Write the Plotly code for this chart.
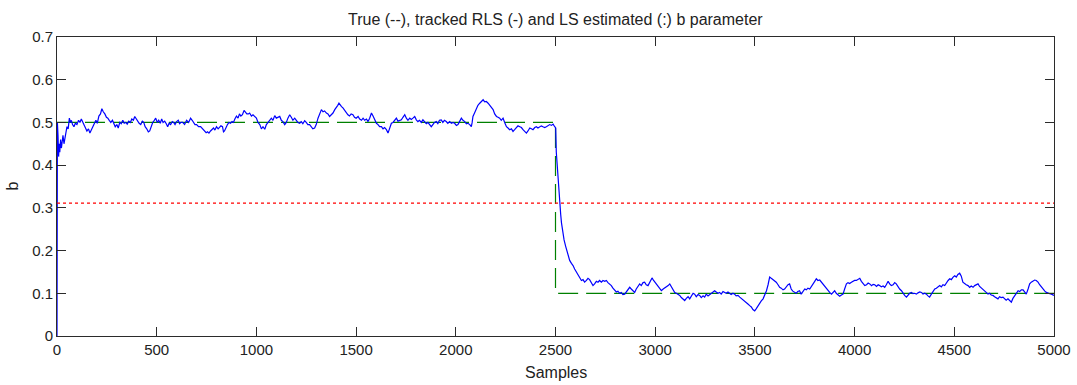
import plotly.graph_objects as go

# Tracked RLS estimate of b
rls_samples = [
    0, 2, 5, 8, 11, 14, 18, 22, 26, 30, 35, 40, 45, 50, 56, 62, 67, 72, 78, 85, 92, 100,
    108, 115, 122, 130, 140, 150, 158, 165, 172, 180, 188, 195, 202, 210, 218, 225, 232,
    240, 248, 255, 262, 270, 278, 285, 292, 300, 307, 315, 322, 330, 337, 345, 352, 360,
    368, 375, 383, 390, 398, 405, 412, 420, 428, 435, 442, 450, 458, 465, 472, 480, 488,
    495, 503, 510, 518, 525, 532, 540, 548, 555, 562, 570, 578, 585, 592, 600, 608, 615,
    622, 630, 640, 650, 660, 670, 678, 685, 692, 700, 710, 720, 730, 740, 748, 755, 762,
    770, 778, 785, 792, 800, 808, 815, 822, 830, 835, 840, 848, 855, 862, 870, 878, 885,
    892, 900, 908, 915, 922, 930, 938, 945, 952, 960, 966, 975, 983,
    1000, 1008, 1017, 1025, 1033, 1042, 1050, 1058, 1067, 1075, 1083, 1092, 1100, 1108,
    1117, 1125, 1133, 1142, 1150, 1158, 1167, 1175, 1183, 1192, 1200, 1208, 1217, 1225,
    1233, 1242, 1250, 1258, 1267, 1275, 1283, 1292, 1300, 1309, 1317, 1326, 1334, 1342,
    1351, 1359, 1367, 1376, 1384, 1393, 1402, 1408, 1414, 1420, 1427, 1434, 1442, 1450,
    1459, 1467, 1475, 1484, 1492, 1500, 1510, 1518, 1527, 1535, 1543, 1552, 1560, 1568,
    1577, 1585, 1593, 1602, 1610, 1618, 1627, 1635, 1643, 1652, 1660, 1668, 1677, 1685,
    1693, 1702, 1710, 1718, 1727, 1735, 1744, 1752, 1760, 1769, 1777, 1785, 1794, 1802,
    1810, 1818, 1827, 1835, 1843, 1852, 1860, 1868, 1877, 1885, 1893, 1902, 1910, 1918,
    1927, 1935, 1943, 1952, 1960, 1969, 1978, 1986, 1994,
    2003, 2011, 2020, 2028, 2036, 2045, 2053, 2061, 2070, 2078, 2082, 2086, 2094, 2103,
    2111, 2120, 2128, 2137, 2145, 2153, 2162, 2170, 2178, 2187, 2195, 2204, 2212, 2220,
    2228, 2237, 2245, 2254, 2262, 2270, 2279, 2287, 2295, 2304, 2312, 2321, 2329, 2337,
    2346, 2354, 2362, 2371, 2379, 2387, 2396, 2404, 2412, 2421, 2429, 2437, 2446, 2454,
    2462, 2471, 2480, 2488, 2496, 2501,
    2504, 2508, 2513, 2517, 2521, 2526, 2530, 2534, 2538, 2543, 2551, 2557, 2563, 2571,
    2580, 2588, 2596, 2605, 2613, 2621, 2630, 2638, 2646, 2655, 2663, 2671, 2680, 2688,
    2696, 2705, 2713, 2721, 2730, 2738, 2747, 2755, 2763, 2772, 2780, 2788, 2797, 2805,
    2813, 2822, 2830, 2838, 2847, 2855, 2864, 2872, 2880, 2889, 2897, 2905, 2914, 2922,
    2930, 2939, 2947, 2955, 2964, 2972, 2980, 2984, 2992,
    3000, 3006, 3015, 3023, 3031, 3040, 3048, 3056, 3065, 3073, 3081, 3090, 3098, 3106,
    3115, 3123, 3131, 3140, 3148, 3156, 3165, 3173, 3181, 3190, 3198, 3206, 3215, 3223,
    3231, 3240, 3248, 3256, 3265, 3273, 3281, 3290, 3298, 3306, 3315, 3323, 3331, 3340,
    3348, 3356, 3365, 3373, 3381, 3390, 3398, 3406, 3415, 3424, 3432, 3440, 3449, 3457,
    3465, 3474, 3482, 3490, 3499, 3507, 3516, 3524, 3532, 3541, 3549, 3558, 3566, 3574,
    3582, 3591, 3599, 3607, 3616, 3624, 3632, 3641, 3649, 3657, 3666, 3674, 3682, 3690,
    3699, 3707, 3715, 3724, 3732, 3740, 3750, 3758, 3766, 3775, 3783, 3791, 3800, 3808,
    3816, 3825, 3833, 3841, 3850, 3858, 3866, 3875, 3884, 3892, 3900, 3908, 3917, 3925,
    3934, 3942, 3950, 3959, 3967, 3975, 3984, 3992,
    4000, 4009, 4017, 4026, 4034, 4043, 4051, 4060, 4068, 4076, 4085, 4093, 4101, 4110,
    4118, 4126, 4134, 4143, 4151, 4159, 4168, 4176, 4184, 4193, 4201, 4209, 4218, 4226,
    4235, 4243, 4251, 4260, 4268, 4276, 4285, 4293, 4301, 4310, 4318, 4327, 4335, 4343,
    4352, 4360, 4368, 4376, 4385, 4393, 4402, 4410, 4418, 4427, 4435, 4443, 4452, 4460,
    4469, 4477, 4485, 4494, 4502, 4510, 4518, 4527, 4535, 4543, 4552, 4560, 4569, 4577,
    4585, 4594, 4602, 4610, 4619, 4627, 4635, 4644, 4652, 4660, 4669, 4677, 4685, 4694,
    4702, 4710, 4719, 4727, 4735, 4744, 4752, 4760, 4769, 4777, 4786, 4794, 4803, 4811,
    4820, 4828, 4836, 4845, 4853, 4861, 4870, 4878, 4886, 4895, 4903, 4911, 4920, 4928,
    4937, 4945, 4954, 4962, 4970, 4979, 4987, 4995, 5000,
]
rls_values = [
    0.0, 0.50, 0.47, 0.42, 0.45, 0.43, 0.46, 0.44, 0.455, 0.47, 0.45, 0.465, 0.475, 0.49,
    0.485, 0.51, 0.50, 0.505, 0.495, 0.49, 0.498, 0.495,
    0.505, 0.50, 0.508, 0.498, 0.49, 0.48, 0.485, 0.475, 0.482, 0.49, 0.50, 0.505, 0.498,
    0.515, 0.52, 0.532, 0.525,
    0.52, 0.512, 0.51, 0.505, 0.50, 0.505, 0.497, 0.49, 0.495, 0.487, 0.50, 0.497, 0.505,
    0.498, 0.50, 0.496, 0.503,
    0.50, 0.508, 0.505, 0.514, 0.508, 0.505, 0.498, 0.495, 0.503, 0.50, 0.49, 0.485,
    0.478, 0.48, 0.49, 0.50, 0.505,
    0.51, 0.50, 0.505, 0.498, 0.508, 0.50, 0.503, 0.497, 0.49, 0.498, 0.495, 0.502, 0.50,
    0.495, 0.502, 0.505, 0.497,
    0.50, 0.50, 0.495, 0.505, 0.50, 0.51, 0.505, 0.50, 0.495, 0.495, 0.49, 0.49, 0.485,
    0.48, 0.476, 0.478, 0.475,
    0.48, 0.483, 0.487, 0.482, 0.49, 0.485, 0.488, 0.492, 0.49, 0.478, 0.48, 0.49, 0.495,
    0.50, 0.498, 0.502, 0.50,
    0.508, 0.515, 0.51, 0.52, 0.515, 0.518, 0.528, 0.525, 0.52, 0.52, 0.522, 0.515, 0.518,
    0.51, 0.50, 0.495, 0.485, 0.49, 0.484, 0.495, 0.50, 0.506, 0.51, 0.505, 0.516, 0.51,
    0.512,
    0.514, 0.505, 0.502, 0.495, 0.50, 0.51, 0.518, 0.512, 0.505, 0.51, 0.505, 0.50, 0.498,
    0.502,
    0.497, 0.504, 0.50, 0.495, 0.495, 0.49, 0.485, 0.487, 0.495, 0.51, 0.52, 0.53, 0.525,
    0.527,
    0.522, 0.52, 0.514, 0.518, 0.522, 0.53, 0.535, 0.54, 0.545, 0.54, 0.537, 0.534, 0.528,
    0.525,
    0.518, 0.515, 0.52, 0.518, 0.512, 0.51, 0.514, 0.508, 0.505, 0.51, 0.505, 0.508,
    0.502, 0.51,
    0.522, 0.515, 0.505, 0.498, 0.495, 0.49, 0.49, 0.485, 0.488, 0.483, 0.475, 0.485,
    0.498, 0.50,
    0.505, 0.51, 0.503, 0.505, 0.506, 0.512, 0.518, 0.51, 0.505, 0.51, 0.507, 0.51, 0.514,
    0.506,
    0.502, 0.505, 0.50, 0.506, 0.502, 0.497, 0.50, 0.495, 0.49, 0.495, 0.50, 0.502, 0.497,
    0.505,
    0.506, 0.50, 0.505, 0.502, 0.498, 0.502, 0.498, 0.50, 0.498,
    0.493, 0.495, 0.503, 0.51, 0.505, 0.502, 0.497, 0.498, 0.495, 0.49, 0.50, 0.514,
    0.522, 0.534,
    0.54, 0.545, 0.55, 0.553, 0.548, 0.549, 0.545, 0.541, 0.536, 0.53, 0.52, 0.514, 0.512,
    0.51,
    0.505, 0.51, 0.50, 0.49, 0.487, 0.483, 0.485, 0.479, 0.483, 0.487, 0.492, 0.49, 0.488,
    0.483,
    0.478, 0.475, 0.48, 0.487, 0.485, 0.483, 0.488, 0.49, 0.487, 0.49, 0.492, 0.49, 0.488,
    0.49,
    0.492, 0.495, 0.493, 0.496, 0.49, 0.487,
    0.43, 0.40, 0.37, 0.33, 0.30, 0.285, 0.265, 0.25, 0.235, 0.225, 0.21, 0.20, 0.19,
    0.177,
    0.17, 0.165, 0.157, 0.15, 0.145, 0.14, 0.13, 0.132, 0.126, 0.13, 0.135, 0.132, 0.125,
    0.118,
    0.122, 0.128, 0.126, 0.13, 0.126, 0.13, 0.128, 0.13, 0.125, 0.122, 0.118, 0.112,
    0.108, 0.103,
    0.105, 0.10, 0.102, 0.097, 0.098, 0.104, 0.108, 0.114, 0.11, 0.105, 0.102, 0.11,
    0.115, 0.122,
    0.118, 0.125, 0.126, 0.12, 0.118, 0.125, 0.13, 0.136, 0.13,
    0.125, 0.122, 0.115, 0.11, 0.106, 0.11, 0.112, 0.114, 0.118, 0.122, 0.115, 0.108,
    0.102, 0.10,
    0.097, 0.095, 0.09, 0.087, 0.083, 0.088, 0.092, 0.087, 0.095, 0.10, 0.098, 0.092,
    0.097, 0.095,
    0.09, 0.094, 0.091, 0.098, 0.094, 0.097, 0.10, 0.104, 0.106, 0.103, 0.10, 0.102,
    0.098, 0.104,
    0.102, 0.10, 0.103, 0.10, 0.097, 0.10, 0.098, 0.094, 0.095, 0.091, 0.088, 0.085,
    0.083, 0.078,
    0.075, 0.071, 0.068, 0.062, 0.059, 0.064, 0.071, 0.076, 0.082, 0.087, 0.095, 0.106,
    0.12, 0.138,
    0.135, 0.132, 0.13, 0.126, 0.12, 0.114, 0.112, 0.108, 0.11, 0.116, 0.12, 0.122, 0.11,
    0.105,
    0.102, 0.10, 0.104, 0.106, 0.098, 0.104, 0.11, 0.108, 0.112, 0.11, 0.115, 0.12, 0.128,
    0.134,
    0.13, 0.131, 0.126, 0.122, 0.116, 0.11, 0.105, 0.102, 0.098, 0.103, 0.106, 0.10,
    0.095, 0.093,
    0.096, 0.098, 0.11, 0.122, 0.125, 0.123, 0.126, 0.128,
    0.13, 0.13, 0.133, 0.135, 0.128, 0.122, 0.118, 0.12, 0.124, 0.122, 0.118, 0.121,
    0.12, 0.116,
    0.12, 0.118, 0.115, 0.117, 0.114, 0.12, 0.128, 0.122, 0.118, 0.12, 0.125, 0.122,
    0.115, 0.11,
    0.106, 0.10, 0.095, 0.091, 0.097, 0.10, 0.102, 0.099, 0.10, 0.098, 0.101, 0.103,
    0.102, 0.098,
    0.10, 0.098, 0.094, 0.091, 0.098, 0.105, 0.11, 0.112, 0.116, 0.118, 0.115, 0.12,
    0.118, 0.125,
    0.13, 0.134, 0.132, 0.138, 0.141, 0.138, 0.144, 0.147, 0.14, 0.126, 0.122, 0.12,
    0.118, 0.114,
    0.117, 0.114, 0.118, 0.12, 0.122, 0.116, 0.113, 0.11, 0.106, 0.102, 0.098, 0.10,
    0.096, 0.095,
    0.092, 0.09, 0.087, 0.092, 0.09, 0.091, 0.088, 0.084, 0.087, 0.082, 0.079, 0.088,
    0.095, 0.10,
    0.106, 0.104, 0.108, 0.108, 0.102, 0.098, 0.11, 0.122, 0.126, 0.128, 0.131, 0.13,
    0.126, 0.12,
    0.114, 0.11, 0.105, 0.102, 0.10, 0.099, 0.098, 0.095, 0.095,
]

# True b (dashed)
true_samples = [0, 2500, 2500, 5000]
true_values = [0.5, 0.5, 0.1, 0.1]

# LS estimate (dotted)
ls_samples = [0, 5000]
ls_values = [0.311, 0.311]

x_ticks = [0, 500, 1000, 1500, 2000, 2500, 3000, 3500, 4000, 4500, 5000]
y_ticks = [0, 0.1, 0.2, 0.3, 0.4, 0.5, 0.6, 0.7]
y_tick_text = ["0", "0.1", "0.2", "0.3", "0.4", "0.5", "0.6", "0.7"]

FONT = "Liberation Sans, Arial, sans-serif"
AX = "#2b2b2b"
TXT = "#222222"

fig = go.Figure()
fig.add_trace(go.Scatter(x=true_samples, y=true_values, mode="lines",
                         line=dict(color="#008000", width=1.2, dash="20px,8px"),
                         hoverinfo="skip"))
fig.add_trace(go.Scatter(x=rls_samples, y=rls_values, mode="lines",
                         line=dict(color="#0000ff", width=1.2), hoverinfo="skip"))
fig.add_trace(go.Scatter(x=ls_samples, y=ls_values, mode="lines",
                         line=dict(color="#ff0000", width=1.2, dash="3px,3px"),
                         hoverinfo="skip"))

axis_common = dict(showgrid=False, zeroline=False, showline=True, linecolor=AX,
                   linewidth=1, mirror="ticks", ticks="inside", ticklen=9,
                   tickcolor=AX, tickwidth=1, automargin=False,
                   tickfont=dict(family=FONT, size=15, color=TXT))

fig.update_xaxes(range=[0, 5000], tickvals=x_ticks,
                 ticktext=[str(v) for v in x_ticks], **axis_common)
fig.update_yaxes(range=[0, 0.7], tickvals=y_ticks, ticktext=y_tick_text,
                 **axis_common)

fig.update_layout(
    template="none",
    width=1077, height=385,
    margin=dict(l=57, r=23, t=37, b=49, pad=0),
    paper_bgcolor="white", plot_bgcolor="white",
    showlegend=False,
    font=dict(family=FONT, color=TXT),
    annotations=[
        dict(text="True (--), tracked RLS (-) and LS estimated (:) b parameter",
             xref="paper", yref="paper", x=0.5, y=1, yshift=18,
             xanchor="center", yanchor="middle", showarrow=False,
             font=dict(family=FONT, size=16, color=TXT)),
        dict(text="Samples", xref="paper", yref="paper", x=0.5, y=0, yshift=-36,
             xanchor="center", yanchor="middle", showarrow=False,
             font=dict(family=FONT, size=16, color=TXT)),
        dict(text="b", xref="paper", yref="paper", x=0, y=0.5, xshift=-45,
             xanchor="center", yanchor="middle", showarrow=False, textangle=-90,
             font=dict(family=FONT, size=16, color=TXT)),
    ],
)

fig.write_html("out.html")
